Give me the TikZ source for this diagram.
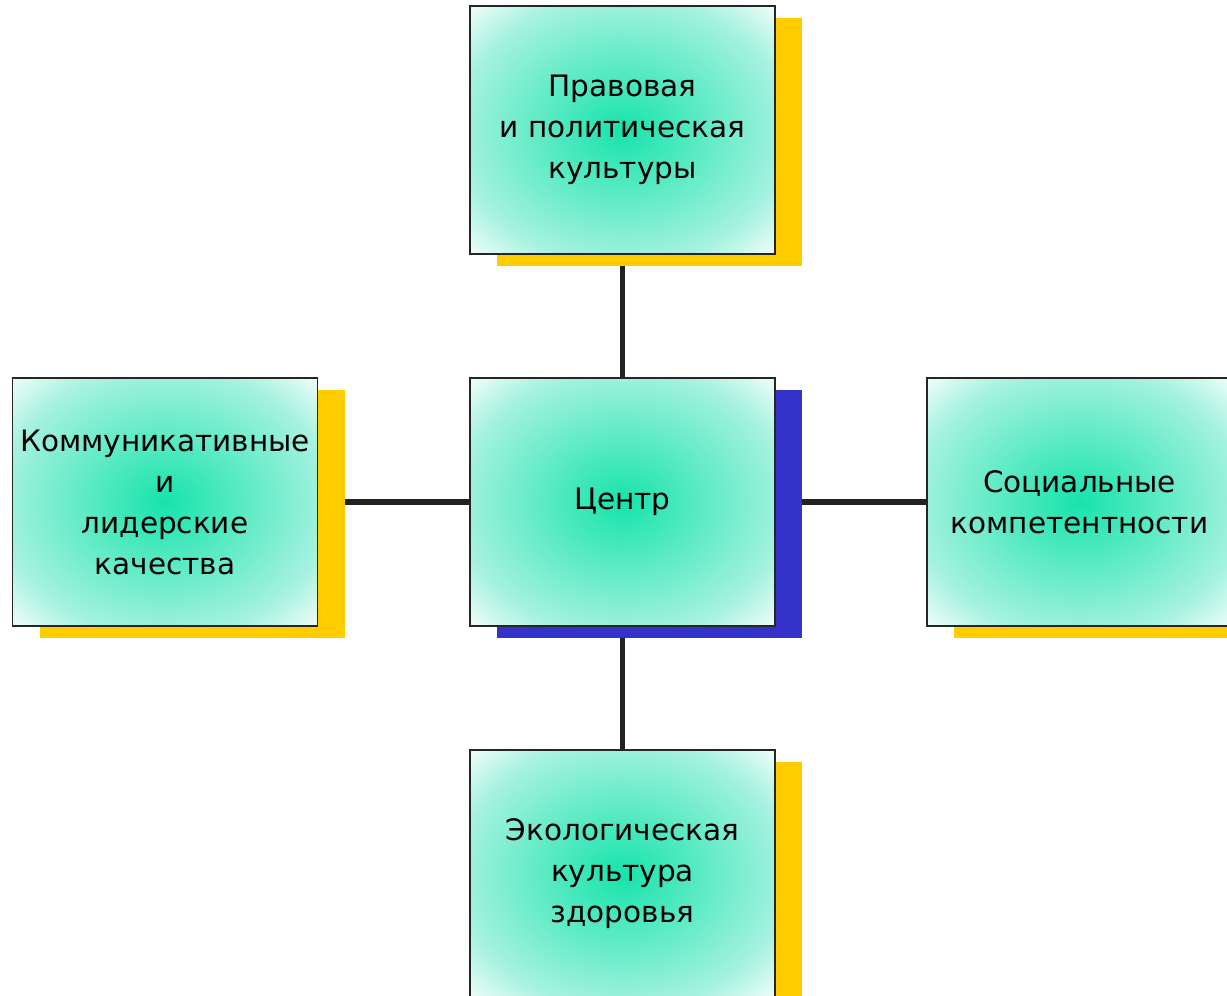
\documentclass[tikz,border=0pt]{standalone}
\usepackage{fontspec}
\setmainfont{DejaVu Sans}
\usetikzlibrary{shadows,backgrounds}

\definecolor{gcen}{HTML}{17E3AC}
\definecolor{gmid}{HTML}{A6F2DF}
\definecolor{shyellow}{HTML}{FFCC00}
\definecolor{shblue}{HTML}{3333CC}
\definecolor{linegray}{HTML}{222222}

\pgfdeclareradialshading{boxglow}{\pgfpoint{0bp}{0bp}}{color(0bp)=(gcen); color(27bp)=(gmid); color(37bp)=(white); color(50bp)=(white)}

\tikzset{
  box/.style={draw=black!85, line width=1.5pt, shading=boxglow,
    minimum width=305pt, minimum height=248pt, inner sep=0pt,
    align=center, font=\fontsize{29.5}{41}\selectfont},
  yshadow/.style={drop shadow={shadow xshift=27pt, shadow yshift=-12pt,
    fill=shyellow, opacity=1}},
  bshadow/.style={drop shadow={shadow xshift=27pt, shadow yshift=-12pt,
    fill=shblue, opacity=1}},
  link/.style={linegray, line width=5.5pt}
}

\begin{document}
\begin{tikzpicture}[x=1pt,y=-1pt]
    \useasboundingbox (0,0) rectangle (1227,996);
    \clip (0,0) rectangle (1227,996);
    % boxes
    \node[box,bshadow] (centr) at (622.5,502) {Центр};
    \node[box,yshadow] (pravo) at (622.5,130) {Правовая\\и политическая\\культуры};
    \node[box,yshadow] (komm) at (165,502) {Коммуникативные\\и\\лидерские\\качества};
    \node[box,yshadow] (soc) at (1079.5,502) {Социальные\\компетентности};
    \node[box,yshadow] (eko) at (622.5,874) {Экологическая\\культура\\здоровья};
    % links
    \begin{scope}[on background layer]
    \draw[link] (pravo) -- (centr);
    \draw[link] (komm) -- (centr);
    \draw[link] (centr) -- (soc);
    \draw[link] (centr) -- (eko);
    \end{scope}
\end{tikzpicture}
\end{document}
